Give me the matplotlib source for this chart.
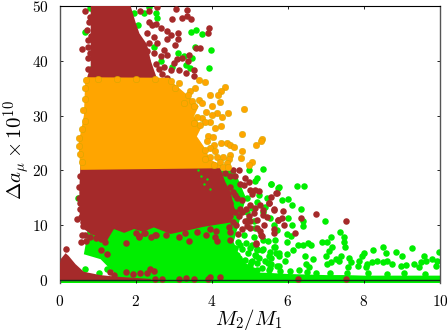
import matplotlib
matplotlib.use('Agg')
import matplotlib.pyplot as plt

plt.rcParams['mathtext.fontset'] = 'cm'
plt.rcParams['font.family'] = ['cmr10', 'DejaVu Sans']
plt.rcParams['axes.formatter.use_mathtext'] = True

GREEN = '#00ee00'
BROWN = '#a52a2a'
ORANGE = '#ffa500'

xticks = [0, 2, 4, 6, 8, 10]
yticks = [0, 10, 20, 30, 40, 50]

# solid (saturated) areas of the scan, outlines
green_block_x = [0.64, 0.70, 0.75, 3.9, 4.6, 4.9, 4.7, 4.6, 4.57, 4.7, 4.9, 5.2, 5.2, 1.5, 1.43, 1.25, 1.08]
green_block_y = [4.7, 7.0, 10.0, 20.0, 20.0, 15.0, 10.0, 7.5, 7.0, 5.0, 3.0, 2.0, 0.0, 0.0, 1.4, 2.6, 3.8]
green_strip_x = [1.5, 2.5, 4.0, 4.5, 5.0, 5.5, 6.0, 6.5, 7.0, 7.5, 8.0, 8.5, 9.0, 9.5, 10.0, 10.0, 0.0, 0.0]
green_strip_y = [0.4, 0.5, 0.9, 1.4, 1.4, 1.3, 1.1, 1.0, 0.9, 0.9, 0.8, 0.8, 0.8, 0.8, 0.8, -0.6, -0.6, 0.0]
hump_x = [0.0, 0.0, 0.03, 0.16, 0.24, 0.42, 0.64, 1.07, 1.5, 2.4, 2.4, 0.0]
hump_y = [0.0, 2.4, 3.8, 4.9, 4.4, 2.9, 1.5, 0.9, 0.6, 0.2, -0.2, -0.2]
brown_low_x = [0.55, 0.52, 0.53, 0.64, 0.82, 1.25, 1.43, 1.70, 1.96, 2.20, 2.48, 2.92, 3.20, 3.53, 3.78, 4.5, 4.6, 4.5, 4.35, 4.2]
brown_low_y = [21.0, 16.6, 11.7, 9.3, 8.4, 7.2, 9.3, 8.6, 9.3, 8.8, 9.6, 8.4, 8.8, 9.3, 9.7, 10.5, 13.0, 16.0, 18.0, 21.0]
brown_top_x = [0.68, 0.82, 0.82, 1.87, 2.0, 2.1, 2.3, 2.4, 2.6]
brown_top_y = [36.0, 39.0, 50.0, 50.0, 47.0, 45.0, 43.0, 40.0, 36.0]
orange_block_x = [0.68, 0.64, 0.56, 0.50, 0.55, 4.4, 3.96, 3.79, 3.61, 3.74, 3.53, 3.66, 3.4, 3.0, 2.88]
orange_block_y = [37.0, 30.0, 27.0, 25.0, 20.1, 20.4, 22.0, 24.4, 26.2, 28.0, 29.8, 31.7, 33.5, 35.9, 36.9]

# scattered points
green_x = [6.25, 6.43, 5.34, 5.55, 5.77, 5.86, 6.01, 6.11, 6.34, 6.01, 6.40, 6.40, 6.12, 6.98, 5.99, 6.08, 7.37, 7.13, 7.48, 7.48,
           7.51, 6.91, 7.04, 7.17, 7.09, 7.00, 5.99, 6.27, 6.41, 6.52, 6.62, 6.14, 5.97, 5.92, 6.46, 6.67, 6.47, 6.56, 6.30, 5.77,
           5.55, 5.69, 5.77, 5.51, 5.36, 5.66, 5.47, 5.20, 5.16, 5.03, 9.27, 9.97, 8.49, 8.24, 8.59, 8.84, 9.01, 9.58, 8.00, 7.94,
           7.87, 7.85, 7.61, 7.65, 7.57, 7.41, 7.26, 7.13, 7.04, 7.35, 8.09, 8.05, 8.22, 8.35, 8.49, 8.62, 8.75, 8.97, 9.10, 9.32,
           9.49, 9.62, 9.80, 9.93, 9.89, 9.45, 4.97, 5.19, 5.14, 5.56, 5.74, 5.23, 5.45, 5.41, 4.93, 4.93, 5.54, 5.10, 5.63, 5.71,
           5.14, 4.84, 5.10, 5.36, 5.67, 5.63, 5.32, 5.54, 5.76, 5.19, 5.00, 5.14, 4.88, 4.71, 4.66, 4.62, 4.75, 5.06, 5.32, 5.49,
           5.54, 5.71, 4.88, 0.48, 0.68, 1.04, 1.24,
           4.70, 4.90, 4.80, 4.95, 5.05, 4.60, 4.75, 5.00, 5.20, 5.25, 5.40, 5.55, 5.20, 5.50, 5.80, 6.05, 6.50, 6.75, 7.10, 7.55,
           8.10, 8.60, 9.05, 9.60, 5.05, 5.35, 4.95, 5.20]
green_y = [17.2, 17.2, 20.2, 17.5, 16.9, 14.6, 14.8, 13.7, 12.9, 11.4, 10.8, 9.9, 10.0, 10.8, 8.4, 8.0, 8.7, 7.9, 7.8, 6.9,
           6.0, 6.9, 6.9, 6.0, 5.3, 4.4, 7.0, 6.4, 6.4, 6.7, 6.3, 5.5, 4.7, 3.4, 4.3, 3.8, 3.0, 2.3, 1.9, 2.6,
           2.9, 5.0, 4.3, 4.4, 5.6, 6.1, 7.2, 5.6, 4.4, 3.2, 5.8, 5.2, 6.0, 5.5, 5.0, 5.2, 4.3, 4.4, 4.9, 4.3,
           3.5, 2.6, 4.1, 3.2, 2.4, 4.4, 3.8, 3.2, 2.9, 3.5, 2.9, 2.3, 3.2, 3.5, 3.3, 3.5, 2.9, 2.6, 2.7, 2.9,
           3.2, 3.5, 3.8, 3.5, 2.6, 2.3, 20.1, 18.6, 18.0, 17.5, 16.7, 15.5, 14.9, 13.4, 14.9, 12.5, 11.3, 10.7, 10.1, 9.2,
           9.5, 8.2, 7.9, 7.3, 7.3, 6.1, 5.5, 5.2, 4.9, 5.5, 5.8, 4.6, 3.7, 4.0, 4.6, 5.8, 6.4, 3.4, 2.2, 3.1,
           2.2, 2.5, 2.2, 14.9, 2.1, 1.3, 2.1,
           7.0, 6.8, 5.6, 4.9, 6.3, 3.0, 2.8, 2.7, 3.1, 4.0, 3.5, 4.1, 1.8, 1.8, 1.7, 1.6, 1.4, 1.3, 1.3, 1.2,
           1.2, 1.1, 1.2, 1.1, 13.2, 12.4, 11.0, 14.2]
green_high_x = [0.80, 0.66, 1.28, 1.82, 1.96, 2.06, 2.22, 2.35, 2.53, 2.55, 3.46, 3.58, 3.75, 3.97, 3.93, 3.11, 3.27, 3.49, 3.56, 2.96,
                3.42, 3.32, 2.48, 2.66, 0.82]
green_high_y = [49.6, 45.2, 47.6, 47.3, 48.8, 46.5, 48.8, 49.8, 48.7, 47.8, 45.3, 45.7, 44.8, 41.9, 38.6, 41.4, 40.9, 40.6, 42.5, 38.9,
                38.6, 39.2, 42.6, 39.9, 38.5]
brown_x = [4.71, 4.49, 4.88, 4.97, 4.84, 5.01, 5.25, 5.07, 4.49, 4.66, 4.79, 4.49, 5.01, 5.26, 5.14, 5.51, 5.71, 5.64, 4.79, 5.36,
           5.45, 5.73, 5.38, 4.97, 5.01, 4.71, 4.88, 4.49, 4.46, 4.49, 4.49, 4.69, 5.19, 5.27, 5.32, 5.63, 5.17, 4.92, 4.09, 4.14,
           3.84, 3.41, 2.52, 2.41, 2.23, 2.08, 2.02, 3.15, 2.37, 2.48, 2.30, 2.11, 1.93, 2.69, 2.52, 3.15, 3.33, 3.54, 3.89, 3.96,
           4.21, 6.75, 7.54, 6.36, 6.19, 5.89, 5.86, 5.88, 5.73, 5.64, 5.70, 5.55, 5.51, 5.64, 6.27, 7.54, 5.16, 5.29, 0.16, 0.46,
           1.08, 1.25, 1.76, 1.32, 1.76, 0.57, 0.70, 0.60, 1.43, 2.09, 2.24, 2.53,
           4.55, 4.60, 4.65, 4.75, 4.60, 4.50, 4.90, 5.10, 5.20, 5.00, 4.55, 4.80, 5.15, 5.35, 4.60, 4.75, 4.55, 4.35,
           0.54, 0.52, 0.52, 0.53, 0.56, 0.62, 0.68, 0.80, 0.95, 1.10, 1.20, 0.55, 0.62,
           2.80, 3.30, 3.62, 3.95, 4.10]
brown_y = [20.1, 18.9, 18.7, 17.8, 17.4, 16.4, 16.3, 15.7, 17.0, 14.9, 14.6, 14.0, 13.7, 13.7, 13.2, 14.1, 15.8, 12.9, 12.5, 11.9,
           11.5, 11.0, 10.1, 11.6, 10.7, 11.6, 10.7, 11.6, 9.6, 8.7, 7.3, 8.4, 9.5, 8.9, 8.1, 8.5, 6.6, 9.8, 7.8, 7.1,
           8.2, 7.1, 8.2, 7.8, 8.5, 7.9, 8.5, 7.9, 2.0, 1.6, 1.3, 1.3, 1.1, 0.2, 0.2, 0.1, 0.3, 0.2, 0.15, 0.5,
           0.5, 12.0, 10.8, 11.4, 8.5, 10.1, 11.4, 12.6, 11.0, 12.8, 15.9, 15.2, 14.0, 9.3, 0.2, 0.1, 6.7, 8.2, 5.6, 11.2,
           5.5, 4.7, 6.8, 1.4, 1.5, 6.9, 7.2, 8.2, 0.9, 8.0, 8.6, 8.2,
           16.0, 12.5, 10.0, 13.0, 15.5, 13.0, 13.0, 12.2, 11.0, 9.5, 10.5, 9.3, 16.5, 12.8, 19.0, 17.5, 20.0, 19.5,
           19.0, 17.0, 15.0, 13.0, 11.5, 9.8, 8.2, 7.8, 7.6, 7.4, 6.9, 14.0, 10.5,
           8.2, 8.6, 8.8, 9.3, 9.0]
brown_high_x = [0.67, 0.71, 0.75, 0.60, 0.75, 0.75, 2.11, 2.35, 2.57, 3.07, 3.34, 2.95, 3.21, 3.34, 3.45, 2.35, 2.53, 2.66, 2.83, 3.12,
                2.92, 3.12, 2.82, 3.03, 3.93, 3.90, 3.58, 3.68, 3.40, 3.23, 3.10, 3.01, 3.39, 2.75, 2.92, 3.14, 3.32, 3.54, 3.54, 2.83,
                2.44, 2.31, 2.48, 2.35, 2.57, 2.75, 2.31, 2.48, 2.66, 2.83, 2.31, 2.53, 2.13,
                0.80, 0.78, 0.82, 0.80, 0.75, 2.05, 2.20, 2.25, 2.62, 2.70]
brown_high_y = [49.1, 45.6, 43.8, 42.1, 40.6, 42.6, 49.1, 49.1, 49.9, 49.5, 49.3, 47.6, 47.9, 48.2, 47.6, 47.1, 46.8, 45.9, 45.5, 45.0,
                44.7, 43.9, 43.9, 42.8, 45.9, 45.0, 42.4, 42.4, 41.0, 40.6, 40.3, 39.6, 40.0, 38.9, 38.3, 38.3, 37.7, 38.3, 37.2, 36.8,
                46.5, 45.0, 44.4, 43.2, 43.2, 42.0, 41.7, 41.4, 40.8, 41.1, 39.9, 39.5, 40.2,
                48.0, 47.0, 44.5, 41.5, 38.5, 44.0, 42.5, 38.5, 38.5, 37.6]
green_spot_x = [3.72, 3.80, 3.88, 3.95, 3.65]
green_spot_y = [19.0, 17.5, 18.4, 16.6, 20.0]
orange_x = [2.94, 3.15, 3.66, 3.83, 4.36, 4.24, 4.16, 3.95, 4.23, 3.57, 3.44, 3.39, 3.04, 3.66, 3.74, 3.48, 4.00, 3.26, 3.86, 4.14,
            4.43, 4.84, 4.27, 4.00, 3.74, 3.61, 3.96, 3.83, 3.70, 4.24, 4.09, 3.53, 4.79, 3.89, 4.03, 3.87, 5.32, 5.30, 5.17, 4.25,
            4.40, 4.49, 4.59, 4.80, 4.05, 3.96, 4.09, 3.83, 4.47, 4.30, 4.14, 3.96, 4.77, 4.45, 5.06, 4.97, 4.40, 4.23, 4.31, 4.05,
            4.44, 3.83, 3.53,
            0.70, 0.66, 0.66, 0.62, 0.66, 0.60, 0.52, 0.50, 0.55, 0.60, 1.00, 1.50, 2.00, 2.50]
orange_y = [36.4, 35.9, 36.5, 36.2, 35.3, 34.4, 33.7, 33.7, 32.4, 35.0, 34.4, 33.8, 35.0, 32.9, 32.3, 32.6, 31.7, 32.3, 30.7, 30.4,
            30.4, 31.2, 29.8, 30.1, 29.5, 29.8, 28.9, 28.9, 28.3, 28.1, 27.7, 28.6, 26.6, 26.3, 26.1, 25.3, 25.8, 25.3, 24.7, 25.0,
            25.0, 24.7, 24.2, 23.6, 24.7, 24.1, 23.5, 23.8, 22.8, 22.4, 22.5, 22.5, 22.2, 22.1, 21.6, 21.0, 21.3, 21.6, 20.7, 21.0,
            20.7, 22.0, 31.7,
            36.5, 35.0, 33.0, 31.0, 29.0, 27.5, 26.0, 24.5, 23.0, 21.5, 36.6, 36.6, 36.7, 36.6]

fig = plt.figure(figsize=(4.47, 3.32), dpi=100)
ax = fig.add_axes([59.5/447, (332-283.3)/332, 380.5/447, 277.3/332])
ax.set_xlim(0, 10)
ax.set_ylim(-0.6, 50)

# layers in drawing order: green, brown, orange
dot = 22
ax.fill(green_block_x, green_block_y, color=GREEN, lw=0, zorder=1)
ax.fill(green_strip_x, green_strip_y, color=GREEN, lw=0, zorder=1)
ax.scatter(green_x, green_y, s=dot, c=GREEN, linewidths=0, zorder=2)
ax.scatter(green_high_x, green_high_y, s=dot, c=GREEN, linewidths=0, zorder=2)
ax.fill(hump_x, hump_y, color=BROWN, lw=0, zorder=3)
ax.fill(brown_low_x, brown_low_y, color=BROWN, lw=0, zorder=3)
ax.fill(brown_top_x, brown_top_y, color=BROWN, lw=0, zorder=3)
ax.scatter(brown_x, brown_y, s=dot, c=BROWN, linewidths=0, zorder=4)
ax.scatter(brown_high_x, brown_high_y, s=dot, c=BROWN, linewidths=0, zorder=4)
ax.scatter(green_spot_x, green_spot_y, s=3, c=GREEN, linewidths=0, zorder=4)
ax.fill(orange_block_x, orange_block_y, color=ORANGE, lw=0, zorder=5)
ax.scatter(orange_x, orange_y, s=dot, c=ORANGE, edgecolors='#c8a800', linewidths=0.3, zorder=6)

ax.axhline(0, color='#10301a', lw=1.0, zorder=7)

ax.spines['bottom'].set_visible(False)
ax.spines['top'].set_linewidth(0.8)
ax.spines['left'].set_color('#555555')
ax.spines['right'].set_color('#555555')
ax.spines['left'].set_linewidth(1.0)
ax.spines['right'].set_linewidth(1.0)

ax.set_xticks(xticks)
ax.set_yticks(yticks)
ax.set_xticklabels(['$%d$' % t for t in xticks], fontsize=11)
ax.set_yticklabels(['$%d$' % t for t in yticks], fontsize=11)
ax.tick_params(axis='both', direction='in', length=2.2, width=0.6, top=True, right=True)
ax.tick_params(axis='x', pad=8)
ax.tick_params(axis='y', pad=8)

fig.text(249/447, 1 - 320/332, r'$M_2/M_1$', fontsize=15, ha='center', va='center')
fig.text(17/447, 1 - 150/332, r'$\Delta a_\mu \times 10^{10}$', fontsize=15, rotation=90, ha='center', va='center')

fig.savefig('out.png', dpi=100)
